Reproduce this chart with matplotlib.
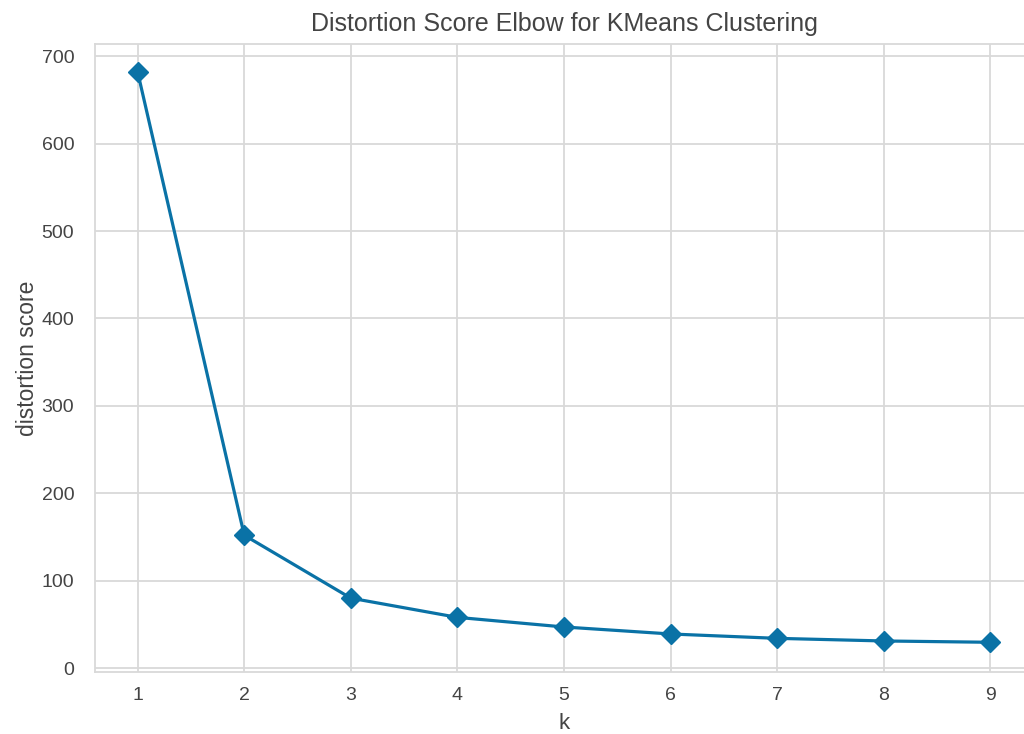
import matplotlib
matplotlib.use("Agg")
import matplotlib.pyplot as plt

k_values = [1, 2, 3, 4, 5, 6, 7, 8, 9]
distortion = [682, 152, 80, 58, 47, 39, 34, 31, 29.5]
y_ticks = [0, 100, 200, 300, 400, 500, 600, 700]

plt.rcParams['font.family'] = ['Liberation Sans', 'DejaVu Sans']

fig = plt.figure(figsize=(10.24, 7.34), dpi=100)
ax = fig.add_axes([95/1024, 62/734, 938/1024, 628/734])
ax.set_facecolor('white')

ax.plot(k_values, distortion, marker='D', color='#0a72a6', linewidth=2.3,
        markersize=10, zorder=3)

ax.set_xlim(0.6, 9.4)
ax.set_ylim(-4.5, 714)
ax.set_xticks(k_values)
ax.set_yticks(y_ticks)

ax.grid(True, color='#d9d9d9', linewidth=1.3)
ax.set_axisbelow(True)
for s in ax.spines.values():
    s.set_color('#d9d9d9')
    s.set_linewidth(1.3)

ax.tick_params(axis='y', length=0, labelsize=14, labelcolor='#444444', pad=15)
ax.tick_params(axis='x', length=0, labelsize=14, labelcolor='#444444', pad=11)
ax.set_xlabel('k', fontsize=16, color='#444444', labelpad=6)
ax.set_ylabel('distortion score', fontsize=16.5, color='#444444', labelpad=2)
ax.set_title('Distortion Score Elbow for KMeans Clustering', fontsize=18,
             color='#444444', pad=9)

fig.savefig('out.png', dpi=100)
